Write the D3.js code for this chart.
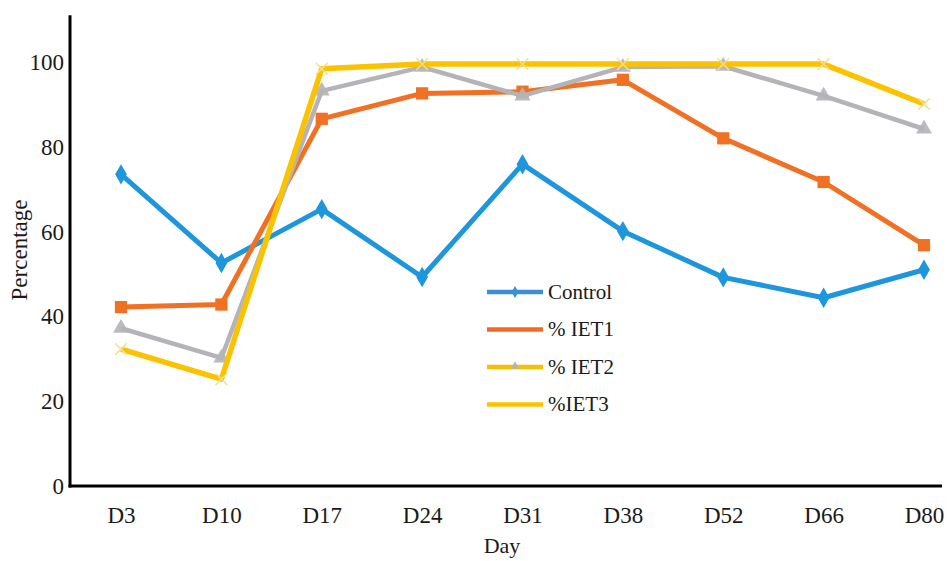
<!DOCTYPE html>
<html><head><meta charset="utf-8">
<script src="https://cdn.jsdelivr.net/npm/d3@7"></script>
<style>body{margin:0;background:#fff}svg{display:block}</style>
</head><body><svg id="c" width="948" height="561"></svg>
<script>
const days = ["D3","D10","D17","D24","D31","D38","D52","D66","D80"];
const control = [73.5, 52.6, 65.3, 49.3, 75.9, 60.1, 49.2, 44.4, 51.0];
const iet1 = [42.2, 42.8, 86.6, 92.6, 93.0, 95.8, 82.0, 71.7, 56.8];
const iet2 = [37.2, 30.2, 93.2, 98.8, 92.0, 98.8, 99.0, 92.0, 84.2];
const iet3 = [32.3, 25.2, 98.4, 99.5, 99.5, 99.5, 99.5, 99.5, 90.1];
const seriesNames = ["Control", "% IET1", "% IET2", "%IET3"];
const yTicks = [0, 20, 40, 60, 80, 100];

const FONT = "'Liberation Serif'";
const svg = d3.select("#c");
const x = d3.scalePoint().domain(days).range([121, 924]);
const y = d3.scaleLinear().domain([0, 100]).range([486, 62]);

function styleText(sel, size) {
  sel.attr("font-family", null).style("font-family", FONT).style("font-size", size + "px").attr("fill", "#1a1a1a");
}

// axes
const yAxis = d3.axisLeft(y).tickValues(yTicks).tickSize(0).tickPadding(6);
const gy = svg.append("g").attr("transform", "translate(70,0)").call(yAxis);
gy.attr("font-family", null).attr("font-size", null);
gy.select(".domain").remove();
styleText(gy.selectAll("text").attr("dy", "0.33em"), 23);
svg.append("line").attr("x1", 70).attr("x2", 70).attr("y1", y(111)).attr("y2", y(0) + 1.5)
  .attr("stroke", "#000").attr("stroke-width", 3);

const xAxis = d3.axisBottom(x).tickSize(0).tickPadding(21);
const gx = svg.append("g").attr("transform", `translate(0,${y(0)})`).call(xAxis);
gx.attr("font-family", null).attr("font-size", null);
gx.select(".domain").remove();
styleText(gx.selectAll("text"), 23);
svg.append("line").attr("x1", 68.5).attr("x2", 942).attr("y1", y(0)).attr("y2", y(0))
  .attr("stroke", "#000").attr("stroke-width", 3);

styleText(svg.append("text").attr("x", 502).attr("y", 553).attr("text-anchor", "middle").text("Day"), 22);
styleText(svg.append("text").attr("transform", "translate(27,250) rotate(-90)").attr("text-anchor", "middle").text("Percentage"), 23);

const series = [
  {name: seriesNames[0], vals: control, color: "#1e96dc", w: 5, marker: "diamond", legColor: "#3a8fd6"},
  {name: seriesNames[1], vals: iet1, color: "#f07024", w: 5, marker: "square", legColor: "#f26b24"},
  {name: seriesNames[2], vals: iet2, color: "#b4b4b8", w: 4.5, marker: "triangle", legColor: "#f6c000"},
  {name: seriesNames[3], vals: iet3, color: "#fbc200", w: 5.5, marker: "cross", legColor: "#fbc200"}
];
const symType = {diamond: d3.symbolDiamond, square: d3.symbolSquare, triangle: d3.symbolTriangle, cross: d3.symbolX};
const symSize = {diamond: 120, square: 150, triangle: 110, cross: 90};

const line = d3.line().x((d, i) => x(days[i])).y(d => y(d));
series.forEach(s => {
  svg.append("path").attr("d", line(s.vals)).attr("fill", "none")
    .attr("stroke", s.color).attr("stroke-width", s.w).attr("stroke-linejoin", "round");
  svg.append("g").selectAll("path").data(s.vals).join("path")
    .attr("transform", (d, i) => `translate(${x(days[i])},${y(d)})`)
    .attr("d", d3.symbol(symType[s.marker], symSize[s.marker]))
    .attr("fill", s.marker === "cross" ? "none" : s.color)
    .attr("stroke", s.marker === "cross" ? "#f3df90" : "none")
    .attr("stroke-width", 1.5)
    .attr("opacity", s.marker === "triangle" ? 0.9 : 1);
});

// legend
const lg = svg.append("g");
series.forEach((s, i) => {
  const ly = 292 + i * 37.5;
  lg.append("line").attr("x1", 487).attr("x2", 543).attr("y1", ly).attr("y2", ly)
    .attr("stroke", s.legColor).attr("stroke-width", 4.5);
  if (s.marker === "diamond") {
    lg.append("path").attr("transform", `translate(515,${ly})`)
      .attr("d", d3.symbol(d3.symbolDiamond, 40)).attr("fill", "#3a8fd6");
  } else if (s.marker === "triangle") {
    lg.append("path").attr("transform", `translate(515,${ly - 1})`)
      .attr("d", d3.symbol(d3.symbolTriangle, 30)).attr("fill", "#b4b4b8");
  }
  styleText(lg.append("text").attr("x", 548).attr("y", ly).attr("dy", "0.33em").text(s.name), 21);
});
</script></body></html>
